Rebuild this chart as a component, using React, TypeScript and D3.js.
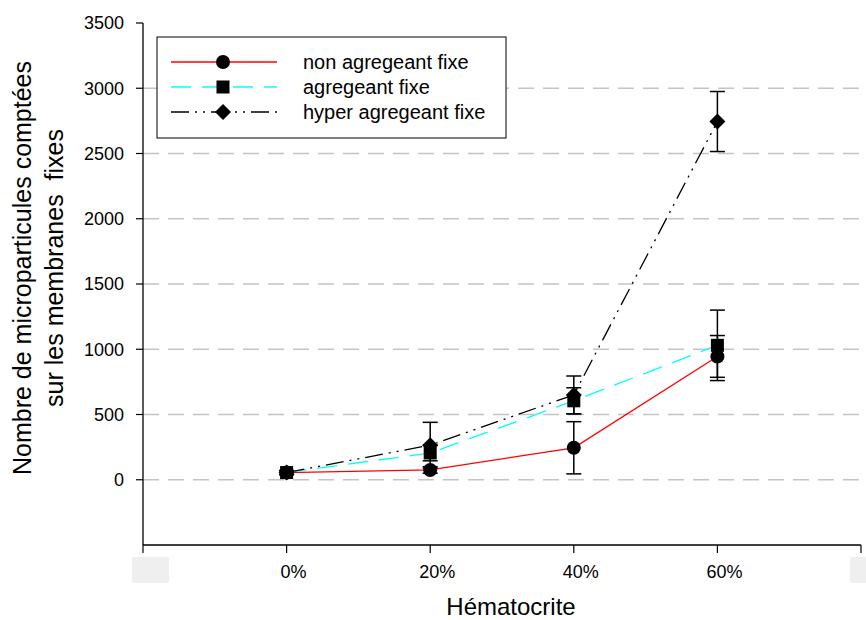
import React from "react";
import * as d3 from "d3";

// Hematocrit levels (%) and fixed-microparticle counts per condition
const hematocrit = [0, 20, 40, 60];
const nonAgregeant = [55, 75, 245, 945];
const nonAgregeantErr = [15, 25, 200, 160];
const agregeant = [55, 205, 605, 1030];
const agregeantErr = [15, 60, 100, 270];
const hyperAgregeant = [55, 265, 650, 2745];
const hyperAgregeantErr = [15, 175, 145, 230];

const xTicks = [-20, 0, 20, 40, 60, 80];
const yTicks = [0, 500, 1000, 1500, 2000, 2500, 3000, 3500];
const gridTicks = [0, 500, 1000, 1500, 2000, 2500, 3000];

const W = 866;
const H = 620;
const left = 143;
const right = 861;
const top = 23;
const bottom = 545;

const x = d3.scaleLinear().domain([-20, 80]).range([left, right]);
const y = d3.scaleLinear().domain([-500, 3500]).range([bottom, top]);

type Series = {
  name: string;
  values: number[];
  errs: number[];
  color: string;
  dash: string;
  marker: "circle" | "square" | "diamond";
};

const series: Series[] = [
  { name: "non agregeant fixe", values: nonAgregeant, errs: nonAgregeantErr, color: "#ff0000", dash: "", marker: "circle" },
  { name: "agregeant fixe", values: agregeant, errs: agregeantErr, color: "#00ffff", dash: "20,11", marker: "square" },
  { name: "hyper agregeant fixe", values: hyperAgregeant, errs: hyperAgregeantErr, color: "#000000", dash: "18,6,2,6,2,6", marker: "diamond" },
];

const font = "'Liberation Sans', Arial, sans-serif";

function Marker({ kind, cx, cy }: { kind: Series["marker"]; cx: number; cy: number }) {
  if (kind === "circle") return <circle cx={cx} cy={cy} r={7} fill="#000" />;
  if (kind === "square") return <rect x={cx - 6.5} y={cy - 6.5} width={13} height={13} fill="#000" />;
  const s = 8;
  return <path d={`M${cx},${cy - s}L${cx + s},${cy}L${cx},${cy + s}L${cx - s},${cy}Z`} fill="#000" />;
}

export default function App() {
  const line = d3
    .line<number>()
    .x((_, i) => x(hematocrit[i]))
    .y((d) => y(d));

  return (
    <svg width={W} height={H} style={{ position: "absolute", left: 0, top: 0, background: "#fff" }} fontFamily={font}>
      {/* horizontal dashed grid */}
      {gridTicks.map((t) => (
        <line key={t} x1={left} x2={right} y1={y(t)} y2={y(t)} stroke="#c4c4c4" strokeWidth={1.5} strokeDasharray="16,9" />
      ))}

      {/* series lines */}
      {series.map((s) => (
        <path key={s.name} d={line(s.values) || ""} fill="none" stroke={s.color} strokeWidth={1.3} strokeDasharray={s.dash} />
      ))}

      {/* error bars */}
      {series.map((s) =>
        s.values.map((v, i) => {
          const cx = x(hematocrit[i]);
          const y1 = y(v + s.errs[i]);
          const y2 = y(v - s.errs[i]);
          return (
            <g key={s.name + i} stroke="#000" strokeWidth={1.5}>
              <line x1={cx} x2={cx} y1={y1} y2={y2} />
              <line x1={cx - 7.5} x2={cx + 7.5} y1={y1} y2={y1} />
              <line x1={cx - 7.5} x2={cx + 7.5} y1={y2} y2={y2} />
            </g>
          );
        })
      )}

      {/* markers */}
      {series.map((s) =>
        s.values.map((v, i) => <Marker key={s.name + "m" + i} kind={s.marker} cx={x(hematocrit[i])} cy={y(v)} />)
      )}

      {/* axes */}
      <line x1={left} x2={left} y1={top} y2={bottom} stroke="#000" strokeWidth={1.3} />
      <line x1={left} x2={right} y1={bottom} y2={bottom} stroke="#000" strokeWidth={1.3} />
      {yTicks.map((t) => (
        <g key={t}>
          <line x1={left - 7} x2={left} y1={y(t)} y2={y(t)} stroke="#000" strokeWidth={1.2} />
          <text x={124} y={y(t)} dy="0.36em" textAnchor="end" fontSize={18} fill="#000">
            {t}
          </text>
        </g>
      ))}
      {xTicks.map((t) => (
        <line key={t} x1={x(t)} x2={x(t)} y1={bottom} y2={bottom + 8} stroke="#000" strokeWidth={1.2} />
      ))}
      {hematocrit.map((t) => (
        <text key={t} x={x(t) + 7} y={578} textAnchor="middle" fontSize={18} fill="#000">
          {t}%
        </text>
      ))}
      {/* blank boxes at the outer tick positions */}
      {[xTicks[0], xTicks[xTicks.length - 1]].map((t) => (
        <rect key={t} x={x(t) - 11} y={557} width={37} height={26} rx={2} fill="#efefef" />
      ))}

      {/* axis titles */}
      <text x={511} y={615} textAnchor="middle" fontSize={24} fill="#000">
        Hématocrite
      </text>
      <text transform="translate(31,268) rotate(-90)" textAnchor="middle" fontSize={25} fill="#000">
        Nombre de microparticules comptées
      </text>
      <text transform="translate(63,268) rotate(-90)" textAnchor="middle" fontSize={25} fill="#000" style={{ whiteSpace: "pre" }}>
        {"sur les membranes  fixes"}
      </text>

      {/* legend */}
      <rect x={157} y={37} width={349} height={101} fill="#fff" stroke="#000" strokeWidth={1} />
      {series.map((s, i) => {
        const ly = 62 + i * 25;
        return (
          <g key={s.name}>
            <line x1={171} x2={277} y1={ly} y2={ly} stroke={s.color} strokeWidth={1.3} strokeDasharray={s.dash} />
            <Marker kind={s.marker} cx={223} cy={ly} />
            <text x={303} y={ly} dy="0.36em" fontSize={20} fill="#000">
              {s.name}
            </text>
          </g>
        );
      })}
    </svg>
  );
}
